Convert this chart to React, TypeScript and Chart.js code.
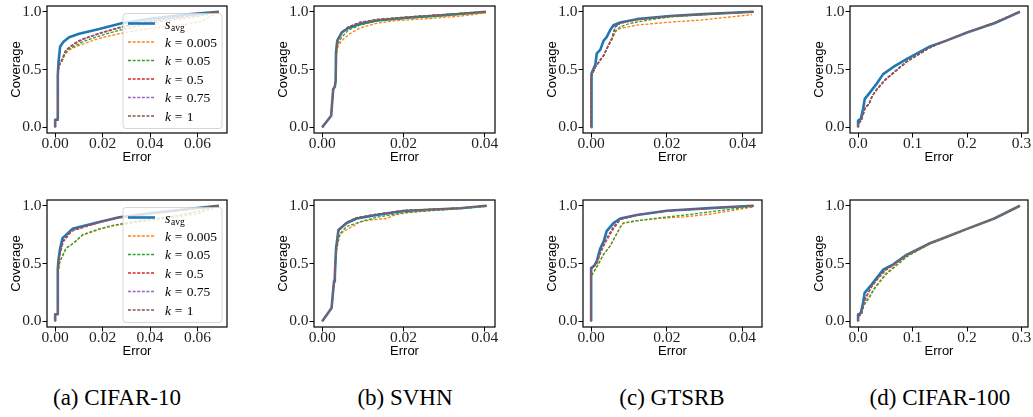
import React, { useEffect, useRef } from 'react';
import { Chart, registerables } from 'chart.js';
Chart.register(...registerables);

type Pts = number[][];

// ---------- text ----------
const SERIES_LABELS = ['s_avg', 'k = 0.005', 'k = 0.05', 'k = 0.5', 'k = 0.75', 'k = 1'];
const X_LABEL = 'Error';
const Y_LABEL = 'Coverage';
const CAPTIONS = ['(a) CIFAR-10', '(b) SVHN', '(c) GTSRB', '(d) CIFAR-100'];

// ---------- ticks ----------
const Y_TICKS = [0, 0.5, 1.0];
const X_TICKS_A = [0, 0.02, 0.04, 0.06];
const X_TICKS_B = [0, 0.02, 0.04];
const X_TICKS_C = [0, 0.02, 0.04];
const X_TICKS_D = [0, 0.1, 0.2, 0.3];

// ---------- CIFAR-10, row 1 ----------
const A1_AVG: Pts = [[0,0],[0,0.065],[0.0011,0.065],[0.0011,0.45],[0.0014,0.56],[0.0021,0.70],[0.0035,0.74],[0.0059,0.78],[0.0101,0.81],[0.0186,0.85],[0.028,0.90],[0.04,0.94],[0.055,0.975],[0.069,1.0]];
const A1_K005: Pts = [[0,0],[0,0.07],[0.0011,0.07],[0.0011,0.42],[0.0013,0.5],[0.002,0.55],[0.003,0.58],[0.0038,0.62],[0.0045,0.64],[0.006,0.67],[0.009,0.70],[0.0116,0.72],[0.0186,0.77],[0.027,0.81],[0.035,0.84],[0.045,0.87],[0.055,0.89],[0.062,0.92],[0.069,1.0]];
const A1_K05: Pts = [[0,0],[0,0.07],[0.0011,0.07],[0.0011,0.42],[0.0013,0.5],[0.002,0.55],[0.003,0.58],[0.0038,0.62],[0.0045,0.65],[0.006,0.68],[0.009,0.71],[0.0116,0.74],[0.0186,0.79],[0.027,0.84],[0.04,0.9],[0.05,0.93],[0.06,0.96],[0.069,1.0]];
const A1_K5: Pts = [[0,0],[0,0.07],[0.0011,0.07],[0.0011,0.42],[0.0013,0.5],[0.002,0.55],[0.003,0.58],[0.0038,0.63],[0.0045,0.66],[0.006,0.69],[0.009,0.73],[0.0116,0.76],[0.0186,0.81],[0.027,0.86],[0.035,0.9],[0.045,0.93],[0.055,0.96],[0.069,1.0]];
const A1_K75: Pts = [[0,0],[0,0.07],[0.0011,0.07],[0.0011,0.42],[0.0013,0.5],[0.002,0.55],[0.003,0.585],[0.0038,0.635],[0.0045,0.665],[0.006,0.69],[0.009,0.735],[0.0116,0.76],[0.0186,0.812],[0.027,0.862],[0.035,0.9],[0.045,0.932],[0.055,0.96],[0.069,1.0]];
const A1_K1: Pts = [[0,0],[0,0.07],[0.0011,0.07],[0.0011,0.43],[0.0013,0.51],[0.002,0.56],[0.003,0.59],[0.0038,0.64],[0.0045,0.67],[0.006,0.695],[0.009,0.74],[0.0116,0.765],[0.0186,0.815],[0.027,0.865],[0.035,0.902],[0.045,0.935],[0.055,0.962],[0.069,1.0]];

// ---------- CIFAR-10, row 2 ----------
const A2_AVG: Pts = [[0,0],[0,0.06],[0.0011,0.06],[0.0011,0.45],[0.0014,0.53],[0.002,0.62],[0.0031,0.72],[0.0073,0.80],[0.0186,0.86],[0.027,0.90],[0.04,0.935],[0.055,0.97],[0.069,1.0]];
const A2_K005: Pts = [[0,0],[0,0.06],[0.0012,0.06],[0.0012,0.42],[0.002,0.52],[0.003,0.56],[0.0045,0.63],[0.008,0.68],[0.0116,0.745],[0.0186,0.795],[0.0243,0.825],[0.035,0.86],[0.05,0.90],[0.06,0.93],[0.069,1.0]];
const A2_K05: Pts = [[0,0],[0,0.06],[0.0012,0.06],[0.0012,0.42],[0.002,0.52],[0.003,0.56],[0.0045,0.63],[0.008,0.68],[0.0116,0.75],[0.0186,0.80],[0.0243,0.83],[0.035,0.87],[0.05,0.91],[0.06,0.95],[0.069,1.0]];
const A2_K5: Pts = [[0,0],[0,0.06],[0.0012,0.06],[0.0012,0.47],[0.002,0.58],[0.0035,0.69],[0.007,0.78],[0.0186,0.855],[0.027,0.895],[0.04,0.93],[0.055,0.965],[0.069,1.0]];
const A2_K75: Pts = [[0,0],[0,0.06],[0.0012,0.06],[0.0012,0.47],[0.002,0.59],[0.0035,0.70],[0.007,0.785],[0.0186,0.858],[0.027,0.897],[0.04,0.932],[0.055,0.966],[0.069,1.0]];
const A2_K1: Pts = [[0,0],[0,0.06],[0.0012,0.06],[0.0012,0.48],[0.002,0.60],[0.0035,0.70],[0.007,0.79],[0.0186,0.86],[0.027,0.90],[0.04,0.933],[0.055,0.967],[0.069,1.0]];

// ---------- SVHN, row 1 ----------
const B1_AVG: Pts = [[0,0],[0.0022,0.10],[0.0027,0.33],[0.0031,0.35],[0.0033,0.40],[0.0034,0.65],[0.0037,0.75],[0.0048,0.82],[0.0064,0.86],[0.0093,0.895],[0.0134,0.925],[0.0216,0.95],[0.0298,0.97],[0.0403,1.0]];
const B1_K005: Pts = [[0,0],[0.0022,0.10],[0.0027,0.33],[0.0031,0.35],[0.0033,0.40],[0.0035,0.62],[0.0039,0.70],[0.0048,0.75],[0.0068,0.81],[0.0093,0.86],[0.0134,0.90],[0.0175,0.922],[0.0257,0.94],[0.0339,0.962],[0.0403,0.99]];
const B1_K05: Pts = [[0,0],[0.0022,0.10],[0.0027,0.33],[0.0031,0.35],[0.0033,0.40],[0.0034,0.62],[0.0038,0.72],[0.0048,0.78],[0.0064,0.84],[0.0093,0.885],[0.0134,0.92],[0.0216,0.945],[0.0298,0.965],[0.0403,0.995]];
const B1_K5: Pts = [[0,0],[0.0022,0.10],[0.0027,0.33],[0.0031,0.35],[0.0033,0.40],[0.0034,0.64],[0.0037,0.74],[0.0048,0.82],[0.0064,0.865],[0.0093,0.905],[0.0134,0.93],[0.0216,0.955],[0.0298,0.975],[0.0403,1.0]];
const B1_K75: Pts = [[0,0],[0.0022,0.10],[0.0027,0.33],[0.0031,0.35],[0.0033,0.40],[0.0034,0.64],[0.0037,0.74],[0.0048,0.82],[0.0064,0.87],[0.0093,0.908],[0.0134,0.932],[0.0216,0.956],[0.0298,0.976],[0.0403,1.0]];
const B1_K1: Pts = [[0,0],[0.0022,0.10],[0.0027,0.33],[0.0031,0.35],[0.0033,0.40],[0.0034,0.64],[0.0037,0.745],[0.0048,0.825],[0.0064,0.868],[0.0093,0.91],[0.0134,0.935],[0.0216,0.957],[0.0298,0.977],[0.0403,1.0]];

// ---------- SVHN, row 2 ----------
const B2_AVG: Pts = [[0,0],[0.0023,0.115],[0.0029,0.345],[0.0031,0.39],[0.0034,0.63],[0.004,0.79],[0.006,0.85],[0.0085,0.89],[0.0134,0.92],[0.02,0.955],[0.034,0.978],[0.0405,1.0]];
const B2_K005: Pts = [[0,0],[0.0023,0.11],[0.0029,0.34],[0.0031,0.38],[0.0034,0.60],[0.0042,0.74],[0.0052,0.776],[0.0093,0.86],[0.0118,0.877],[0.0159,0.89],[0.0171,0.91],[0.0191,0.93],[0.0257,0.96],[0.0405,0.995]];
const B2_K05: Pts = [[0,0],[0.0023,0.11],[0.0029,0.34],[0.0031,0.38],[0.0034,0.60],[0.0044,0.76],[0.006,0.82],[0.0093,0.86],[0.0134,0.90],[0.02,0.94],[0.03,0.965],[0.0405,0.995]];
const B2_K5: Pts = [[0,0],[0.0023,0.115],[0.0029,0.345],[0.0031,0.39],[0.0034,0.62],[0.004,0.78],[0.006,0.855],[0.0085,0.895],[0.0134,0.925],[0.02,0.957],[0.034,0.98],[0.0405,1.0]];
const B2_K75: Pts = [[0,0],[0.0023,0.115],[0.0029,0.345],[0.0031,0.39],[0.0034,0.62],[0.004,0.78],[0.006,0.857],[0.0085,0.897],[0.0134,0.927],[0.02,0.958],[0.034,0.98],[0.0405,1.0]];
const B2_K1: Pts = [[0,0],[0.0023,0.115],[0.0029,0.345],[0.0031,0.39],[0.0034,0.62],[0.004,0.785],[0.006,0.858],[0.0085,0.898],[0.0134,0.928],[0.02,0.96],[0.034,0.981],[0.0405,1.0]];

// ---------- GTSRB, row 1 ----------
const C1_AVG: Pts = [[0,0],[0,0.45],[0.0002,0.465],[0.0011,0.54],[0.0015,0.64],[0.0024,0.67],[0.0033,0.75],[0.0041,0.78],[0.005,0.84],[0.0059,0.884],[0.0077,0.907],[0.0121,0.936],[0.0209,0.964],[0.0297,0.98],[0.0429,1.0]];
const C1_K005: Pts = [[0,0],[0,0.44],[0.0011,0.52],[0.0024,0.58],[0.0033,0.62],[0.0046,0.71],[0.0055,0.76],[0.0064,0.83],[0.0077,0.855],[0.0121,0.885],[0.0209,0.91],[0.0297,0.93],[0.0425,0.975]];
const C1_K05: Pts = [[0,0],[0,0.44],[0.0011,0.52],[0.0024,0.58],[0.0033,0.62],[0.0046,0.71],[0.0055,0.76],[0.0064,0.83],[0.0077,0.87],[0.0103,0.90],[0.0165,0.935],[0.0209,0.955],[0.0297,0.975],[0.0429,1.0]];
const C1_K5: Pts = [[0,0],[0,0.44],[0.0011,0.52],[0.0024,0.58],[0.0033,0.62],[0.0046,0.71],[0.0055,0.77],[0.0064,0.87],[0.0077,0.90],[0.0121,0.933],[0.0209,0.962],[0.0297,0.978],[0.0429,1.0]];
const C1_K75: Pts = [[0,0],[0,0.44],[0.0011,0.52],[0.0024,0.585],[0.0033,0.625],[0.0046,0.715],[0.0055,0.775],[0.0064,0.87],[0.0077,0.90],[0.0121,0.934],[0.0209,0.962],[0.0297,0.978],[0.0429,1.0]];
const C1_K1: Pts = [[0,0],[0,0.44],[0.0011,0.52],[0.0024,0.58],[0.0033,0.62],[0.0046,0.71],[0.0055,0.77],[0.0064,0.872],[0.0077,0.902],[0.0121,0.935],[0.0209,0.963],[0.0297,0.979],[0.0429,1.0]];

// ---------- GTSRB, row 2 ----------
const C2_AVG: Pts = [[0,0],[0,0.46],[0.0008,0.48],[0.0015,0.52],[0.0024,0.63],[0.0033,0.69],[0.0041,0.78],[0.0059,0.85],[0.0077,0.89],[0.0121,0.92],[0.02,0.957],[0.0314,0.98],[0.0429,1.0]];
const C2_K005: Pts = [[0,0],[0,0.39],[0.0015,0.47],[0.0033,0.58],[0.005,0.65],[0.0068,0.76],[0.0078,0.82],[0.0085,0.85],[0.012,0.87],[0.018,0.89],[0.025,0.905],[0.032,0.93],[0.0429,0.99]];
const C2_K05: Pts = [[0,0],[0,0.39],[0.0015,0.47],[0.0033,0.58],[0.005,0.65],[0.0068,0.76],[0.0078,0.82],[0.0085,0.85],[0.012,0.87],[0.018,0.895],[0.025,0.92],[0.032,0.95],[0.0429,0.995]];
const C2_K5: Pts = [[0,0],[0,0.45],[0.0015,0.50],[0.0024,0.58],[0.0033,0.65],[0.0041,0.70],[0.0059,0.80],[0.0077,0.88],[0.0121,0.92],[0.02,0.955],[0.0314,0.978],[0.0429,1.0]];
const C2_K75: Pts = [[0,0],[0,0.45],[0.0015,0.51],[0.0024,0.59],[0.0033,0.66],[0.0041,0.71],[0.0059,0.81],[0.0077,0.88],[0.0121,0.92],[0.02,0.955],[0.0314,0.978],[0.0429,1.0]];
const C2_K1: Pts = [[0,0],[0,0.45],[0.0015,0.51],[0.0024,0.60],[0.0033,0.67],[0.0041,0.72],[0.0059,0.82],[0.0077,0.885],[0.0121,0.922],[0.02,0.956],[0.0314,0.979],[0.0429,1.0]];

// ---------- CIFAR-100, row 1 ----------
const D1_AVG: Pts = [[0,0],[0,0.057],[0.005,0.072],[0.0092,0.16],[0.0123,0.246],[0.0215,0.30],[0.034,0.377],[0.046,0.46],[0.064,0.52],[0.089,0.59],[0.132,0.70],[0.162,0.75],[0.2,0.82],[0.25,0.90],[0.297,1.0]];
const D1_K005: Pts = [[0,0],[0,0.03],[0.006,0.06],[0.01,0.12],[0.013,0.17],[0.02,0.2],[0.026,0.27],[0.035,0.33],[0.05,0.41],[0.07,0.49],[0.09,0.57],[0.132,0.69],[0.162,0.75],[0.2,0.82],[0.25,0.905],[0.297,1.0]];
const D1_K05: Pts = [[0,0],[0,0.03],[0.006,0.06],[0.01,0.12],[0.013,0.17],[0.02,0.2],[0.026,0.27],[0.035,0.335],[0.05,0.415],[0.07,0.495],[0.09,0.57],[0.132,0.69],[0.162,0.75],[0.2,0.82],[0.25,0.905],[0.297,1.0]];
const D1_K5: Pts = [[0,0],[0,0.03],[0.006,0.06],[0.01,0.12],[0.013,0.17],[0.02,0.2],[0.026,0.27],[0.035,0.33],[0.05,0.41],[0.07,0.49],[0.09,0.57],[0.132,0.69],[0.162,0.75],[0.2,0.82],[0.25,0.905],[0.297,1.0]];
const D1_K75: Pts = [[0,0],[0,0.03],[0.006,0.06],[0.01,0.125],[0.013,0.175],[0.02,0.205],[0.026,0.275],[0.035,0.335],[0.05,0.415],[0.07,0.495],[0.09,0.575],[0.132,0.69],[0.162,0.75],[0.2,0.82],[0.25,0.905],[0.297,1.0]];
const D1_K1: Pts = [[0,0],[0,0.03],[0.006,0.06],[0.01,0.12],[0.013,0.17],[0.02,0.2],[0.026,0.27],[0.035,0.33],[0.05,0.41],[0.07,0.49],[0.09,0.57],[0.132,0.69],[0.162,0.75],[0.2,0.82],[0.25,0.905],[0.297,1.0]];

// ---------- CIFAR-100, row 2 ----------
const D2_AVG: Pts = [[0,0],[0,0.058],[0.005,0.07],[0.0092,0.16],[0.012,0.245],[0.0245,0.316],[0.034,0.374],[0.046,0.446],[0.064,0.49],[0.089,0.575],[0.132,0.676],[0.162,0.73],[0.2,0.80],[0.25,0.89],[0.297,1.0]];
const D2_K005: Pts = [[0,0],[0,0.04],[0.006,0.06],[0.01,0.14],[0.015,0.18],[0.02,0.21],[0.03,0.29],[0.04,0.35],[0.05,0.41],[0.07,0.49],[0.09,0.565],[0.132,0.672],[0.162,0.73],[0.2,0.80],[0.25,0.89],[0.297,1.0]];
const D2_K05: Pts = [[0,0],[0,0.04],[0.006,0.06],[0.01,0.13],[0.015,0.17],[0.02,0.2],[0.03,0.28],[0.04,0.34],[0.05,0.40],[0.07,0.48],[0.09,0.56],[0.132,0.67],[0.162,0.73],[0.2,0.80],[0.25,0.89],[0.297,1.0]];
const D2_K5: Pts = [[0,0],[0,0.04],[0.006,0.06],[0.01,0.15],[0.014,0.20],[0.025,0.30],[0.035,0.36],[0.05,0.44],[0.064,0.485],[0.089,0.57],[0.132,0.675],[0.162,0.73],[0.2,0.80],[0.25,0.89],[0.297,1.0]];
const D2_K75: Pts = [[0,0],[0,0.04],[0.006,0.06],[0.01,0.15],[0.014,0.20],[0.025,0.30],[0.035,0.362],[0.05,0.442],[0.064,0.487],[0.089,0.572],[0.132,0.675],[0.162,0.73],[0.2,0.80],[0.25,0.89],[0.297,1.0]];
const D2_K1: Pts = [[0,0],[0,0.045],[0.006,0.065],[0.01,0.155],[0.014,0.205],[0.025,0.305],[0.035,0.365],[0.05,0.445],[0.064,0.488],[0.089,0.573],[0.132,0.676],[0.162,0.73],[0.2,0.80],[0.25,0.89],[0.297,1.0]];

// ---------- assembly ----------
const COLS = [
  { xr: [-0.00345, 0.07245], ticks: X_TICKS_A, dec: 2, left: 47, w: 180, caption: 117,
    rows: [[A1_AVG, A1_K005, A1_K05, A1_K5, A1_K75, A1_K1], [A2_AVG, A2_K005, A2_K05, A2_K5, A2_K75, A2_K1]] },
  { xr: [-0.002025, 0.042525], ticks: X_TICKS_B, dec: 2, left: 314, w: 181, caption: 405,
    rows: [[B1_AVG, B1_K005, B1_K05, B1_K5, B1_K75, B1_K1], [B2_AVG, B2_K005, B2_K05, B2_K5, B2_K75, B2_K1]] },
  { xr: [-0.00215, 0.04515], ticks: X_TICKS_C, dec: 2, left: 583, w: 179, caption: 672,
    rows: [[C1_AVG, C1_K005, C1_K05, C1_K5, C1_K75, C1_K1], [C2_AVG, C2_K005, C2_K05, C2_K5, C2_K75, C2_K1]] },
  { xr: [-0.01485, 0.31185], ticks: X_TICKS_D, dec: 1, left: 850, w: 178, caption: 940,
    rows: [[D1_AVG, D1_K005, D1_K05, D1_K5, D1_K75, D1_K1], [D2_AVG, D2_K005, D2_K05, D2_K5, D2_K75, D2_K1]] },
];

const ROW_TOP = [6, 200];
const PH = 127;
const YW = 47;   // y-axis box width
const XH = 36;   // x-axis box height
const PT = 8;    // top padding
const PR = 8;    // right padding

const SERIF = '"Liberation Serif", "Times New Roman", Tinos, "DejaVu Serif", "Noto Serif", serif';
const SANS = '"Liberation Sans", Arial, "Open Sans", sans-serif';
const COLORS = ['#1f77b4', '#ff7f0e', '#2ca02c', '#d62728', '#9467bd', '#8c564b'];
const TICK_FONT = { family: SERIF, size: 15.5, lineHeight: 1 };
const TITLE_FONT = { family: SANS, size: 13 };

const framePlugin = {
  id: 'frame',
  afterDatasetsDraw(chart: any) {
    const { ctx, chartArea: a } = chart;
    ctx.save();
    ctx.strokeStyle = '#000';
    ctx.lineWidth = 1.2;
    ctx.setLineDash([]);
    ctx.strokeRect(a.left, a.top, a.right - a.left, a.bottom - a.top);
    ctx.restore();
  },
};

const legendPlugin = {
  id: 'innerLegend',
  afterDraw(chart: any) {
    const { ctx, chartArea: a } = chart;
    const bw = 99, bh = 115;
    const bx = a.right - 5 - bw, by = a.top + 7.5;
    const r = 3;
    ctx.save();
    ctx.beginPath();
    ctx.moveTo(bx + r, by);
    ctx.arcTo(bx + bw, by, bx + bw, by + bh, r);
    ctx.arcTo(bx + bw, by + bh, bx, by + bh, r);
    ctx.arcTo(bx, by + bh, bx, by, r);
    ctx.arcTo(bx, by, bx + bw, by, r);
    ctx.closePath();
    ctx.fillStyle = 'rgba(255,255,255,0.8)';
    ctx.fill();
    ctx.strokeStyle = 'rgba(204,204,204,0.8)';
    ctx.lineWidth = 1;
    ctx.stroke();
    chart.data.datasets.forEach((ds: any, i: number) => {
      const y = by + 10 + i * 18.5;
      ctx.beginPath();
      ctx.setLineDash(ds.borderDash || []);
      ctx.lineWidth = ds.borderWidth;
      ctx.strokeStyle = ds.borderColor;
      ctx.moveTo(bx + 5, y);
      ctx.lineTo(bx + 32, y);
      ctx.stroke();
      ctx.setLineDash([]);
      ctx.fillStyle = '#000';
      ctx.textBaseline = 'alphabetic';
      ctx.textAlign = 'left';
      const tx = bx + 42;
      const label: string = ds.label;
      if (label.startsWith('s_')) {
        ctx.font = `italic 14px ${SERIF}`;
        ctx.fillText('s', tx, y + 5.5);
        const sw = ctx.measureText('s').width;
        ctx.font = `9.5px ${SERIF}`;
        ctx.fillText(label.slice(2), tx + sw + 0.5, y + 7.5);
      } else {
        const parts = label.split(' = ');
        ctx.font = `italic 13.5px ${SERIF}`;
        ctx.fillText(parts[0], tx, y + 4.8);
        ctx.font = `13.5px ${SERIF}`;
        ctx.fillText('=', tx + 9.7, y + 4.8);
        ctx.fillText(parts[1], tx + 21.7, y + 4.8);
      }
    });
    ctx.restore();
  },
};

function Panel({ col, row }: { col: number; row: number }) {
  const ref = useRef<HTMLCanvasElement>(null);
  const spec = COLS[col];
  const left = spec.left - YW;
  const top = ROW_TOP[row] - PT;
  const W = YW + spec.w + PR;
  const H = PT + PH + XH;
  useEffect(() => {
    const series = spec.rows[row];
    const plugins: any[] = [framePlugin];
    if (col === 0) plugins.push(legendPlugin);
    const chart = new Chart(ref.current as HTMLCanvasElement, {
      type: 'line',
      data: {
        datasets: series.map((pts, i) => ({
          label: SERIES_LABELS[i],
          data: pts.map(([x, y]) => ({ x, y })),
          borderColor: COLORS[i],
          backgroundColor: COLORS[i],
          borderWidth: i === 0 ? 2.6 : 1.3,
          borderDash: i === 0 ? [] : [3, 1.6],
          borderJoinStyle: 'round',
          pointRadius: 0,
          tension: 0,
          fill: false,
          order: 5 - i,
        })),
      },
      options: {
        animation: false,
        responsive: false,
        devicePixelRatio: 1,
        layout: { padding: { left: 0, top: PT, right: PR, bottom: 0 } },
        plugins: { legend: { display: false }, tooltip: { enabled: false } },
        scales: {
          x: {
            type: 'linear',
            min: spec.xr[0],
            max: spec.xr[1],
            afterBuildTicks: (s: any) => { s.ticks = spec.ticks.map((v) => ({ value: v })); },
            afterFit: (s: any) => { s.height = XH; s.paddingLeft = 0; s.paddingRight = 0; },
            ticks: {
              autoSkip: false, maxRotation: 0, padding: -1, color: '#222', font: TICK_FONT,
              callback: (v: any) => Number(v).toFixed(spec.dec),
            },
            grid: { drawOnChartArea: false, drawTicks: true, tickLength: 4.5, color: '#000', lineWidth: 1 },
            border: { display: false },
            title: { display: true, text: X_LABEL, color: '#000', font: TITLE_FONT, padding: { top: 0, bottom: 3.5 } },
          },
          y: {
            type: 'linear',
            min: -0.05,
            max: 1.05,
            afterBuildTicks: (s: any) => { s.ticks = Y_TICKS.map((v) => ({ value: v })); },
            afterFit: (s: any) => { s.width = YW; s.paddingTop = 0; s.paddingBottom = 0; },
            ticks: {
              autoSkip: false, padding: 1, color: '#222', font: TICK_FONT,
              callback: (v: any) => Number(v).toFixed(1),
            },
            grid: { drawOnChartArea: false, drawTicks: true, tickLength: 4.5, color: '#000', lineWidth: 1 },
            border: { display: false },
            title: { display: true, text: Y_LABEL, color: '#000', font: TITLE_FONT, padding: { top: 8.7, bottom: 0 } },
          },
        },
      } as any,
      plugins,
    });
    return () => chart.destroy();
  }, []);
  return (
    <canvas
      ref={ref}
      width={W}
      height={H}
      style={{ position: 'absolute', left, top, width: W, height: H }}
    />
  );
}

export default function App() {
  return (
    <div style={{ position: 'absolute', left: 0, top: 0, width: 1033, height: 417, overflow: 'hidden', background: '#fff' }}>
      {COLS.map((c, ci) =>
        [0, 1].map((ri) => <Panel key={`${ci}-${ri}`} col={ci} row={ri} />)
      )}
      {COLS.map((c, ci) => (
        <div
          key={`cap-${ci}`}
          style={{
            position: 'absolute', left: c.caption - 120, width: 240, top: 386,
            textAlign: 'center', fontFamily: SERIF, fontSize: 23, lineHeight: '23px', color: '#000',
            whiteSpace: 'nowrap',
          }}
        >
          {CAPTIONS[ci]}
        </div>
      ))}
    </div>
  );
}
